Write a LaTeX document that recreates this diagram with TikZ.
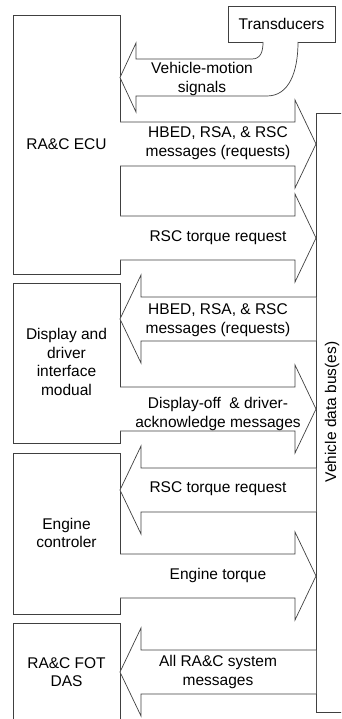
\documentclass[tikz,border=0pt]{standalone}
\usepackage{fontspec}
\setmainfont{Liberation Sans}
\begin{document}
\begin{tikzpicture}[x=1pt,y=-1pt,
  line/.style={draw=black!75,line width=0.7pt},
  unitbox/.style={line,fill=white,rectangle,inner sep=0pt,align=center,
    font=\fontsize{15.5}{18.5}\selectfont},
  blk/.style={line,fill=white,line join=miter},
  lbl/.style={align=center,inner sep=0pt,font=\fontsize{15.5}{18.5}\selectfont}]
\useasboundingbox (0,0) rectangle (341,719);
\clip (0,0) rectangle (341,719);
\newcommand{\blkright}[1]{%
  \draw[blk] (120,{#1-22}) -- (295,{#1-22}) -- (295,{#1-44}) -- (316,#1)
     -- (295,{#1+44}) -- (295,{#1+22}) -- (120,{#1+22});}
\newcommand{\blkleft}[1]{%
  \draw[blk] (316,{#1-22}) -- (141,{#1-22}) -- (141,{#1-44}) -- (120,#1)
     -- (141,{#1+44}) -- (141,{#1+22}) -- (316,{#1+22});}
% bus
\draw[line] (350,113) -- (316,113) -- (316,712) -- (350,712);
\node[lbl,rotate=90] (bus) at (332,412) {Vehicle data bus(es)};
% boxes
\node[unitbox,minimum width=107,minimum height=259] (ecu) at (66.5,144.5) {};
\node[lbl] (ecut) at (66.5,144) {RA\&C ECU};
\node[unitbox,minimum width=107,minimum height=160] (disp) at (66.5,363) {};
\node[lbl] (dispt) at (66.5,362) {Display and\\driver\\interface\\modual};
\node[unitbox,minimum width=107,minimum height=161] (eng) at (66.5,533.5) {};
\node[lbl] (engt) at (66.5,533) {Engine\\controler};
\draw[line] (13,725) -- (13,623) -- (120,623) -- (120,725);
\node[lbl] (das) at (66.5,672) {RA\&C FOT\\DAS};
\node[unitbox,minimum width=107,minimum height=36] (tr) at (281.5,24) {Transducers};
% curved arrow from transducers
\draw[blk] (263,42) .. controls (263,51) and (261,59) .. (252,59) -- (136,59)
   -- (136,43) -- (120,77.5) -- (136,112) -- (136,96) -- (267,96)
   .. controls (289,96) and (298,72) .. (298,42);
\node[lbl] (vm) at (202,79) {Vehicle-motion\\signals};
% block arrows
\blkright{144}
\node[lbl] (a1) at (218,143) {HBED, RSA, \& RSC\\messages (requests)};
\blkright{238}
\node[lbl] (a2) at (218,238) {RSC torque request};
\blkleft{319}
\node[lbl] (a3) at (218,320) {HBED, RSA, \& RSC\\messages (requests)};
\blkright{409}
\node[lbl] (a4) at (218,414) {Display-off~~\& driver-\\acknowledge messages};
\blkleft{490}
\node[lbl] (a5) at (218,489) {RSC torque request};
\blkright{576}
\node[lbl] (a6) at (218,575) {Engine torque};
\blkleft{672}
\node[lbl] (a7) at (218,672) {All RA\&C system\\messages};
\end{tikzpicture}
\end{document}
